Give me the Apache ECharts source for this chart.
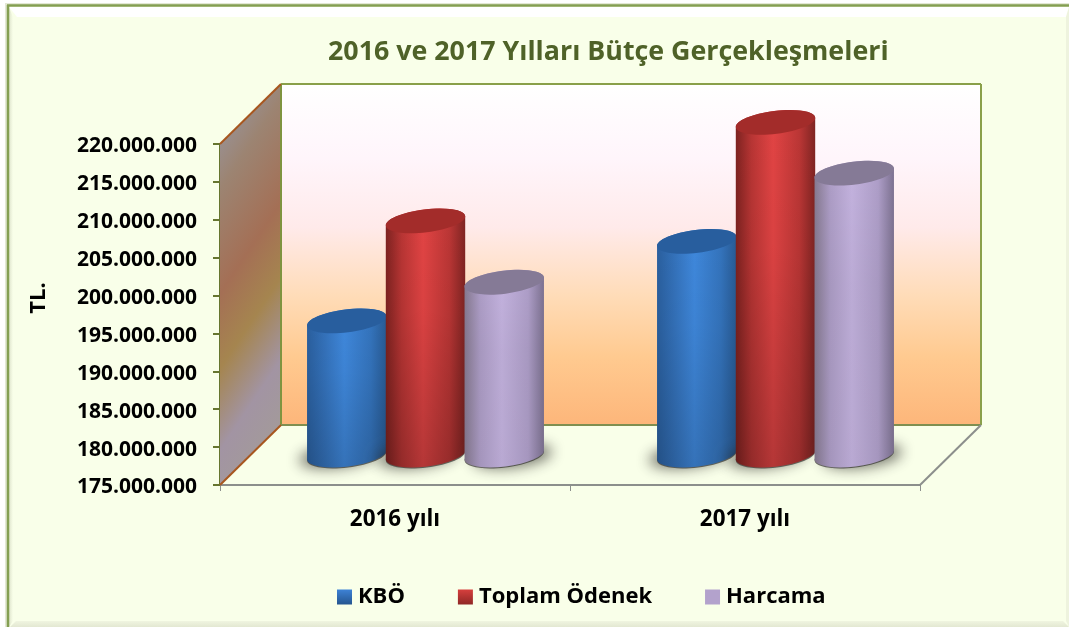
<!DOCTYPE html>
<html><head><meta charset="utf-8">
<style>html,body{margin:0;padding:0;background:#fff}#c{width:1069px;height:627px}</style>
<script src="https://cdn.jsdelivr.net/npm/echarts@6/dist/echarts.min.js"></script>
</head><body><div id="c"></div>
<script>
const titleText = '2016 ve 2017 Yılları Bütçe Gerçekleşmeleri';
const yAxisTitle = 'TL.';
const categories = ['2016 yılı', '2017 yılı'];
const kbo = [192700000, 203200000];
const toplamOdenek = [205900000, 218900000];
const harcama = [197800000, 212200000];
const yMin = 175000000, yMax = 220000000, yStep = 5000000;

const G = echarts.graphic;
const DX = 61, DY = -60;           // oblique depth of the 3D box
const RX = 40, RY = 11.5, TILT = -7 * Math.PI / 180;
const lin = (x0, y0, x1, y1, stops, global) => new G.LinearGradient(x0, y0, x1, y1,
  stops.map(s => ({offset: s[0], color: s[1]})), global);

const palettes = {
  blue: {edgeL:'#2a5f9e', blendL:'#3370b8', mid:'#3f88dc', blendR:'#3474bd', edgeR:'#285a93', top:'#285e9e', dim:0.16},
  red: {edgeL:'#7d2220', blendL:'#b83534', mid:'#e24444', blendR:'#bb3635', edgeR:'#7f2422', top:'#a32c2a', dim:0.2},
  lilac: {edgeL:'#85798f', blendL:'#ad9dc6', mid:'#c3b2de', blendR:'#ae9ec8', edgeR:'#7c7190', top:'#857a96', dim:0.05}
};

function wallsItem(params, api) {
  const fl = api.coord([0, yMin]), fr = api.coord([1, yMin]), tl = api.coord([0, yMax]);
  const band = api.size([1, 0])[0];
  const x0 = fl[0] - band / 2, x1 = fr[0] + band / 2, yb = fl[1], yt = tl[1];
  const poly = (pts, style) => ({type:'polygon', shape:{points:pts}, style, silent:true});
  const ln = (a, b, c, w) => ({type:'line', shape:{x1:a[0],y1:a[1],x2:b[0],y2:b[1]},
    style:{stroke:c, lineWidth:w||2}, silent:true});
  const A=[x0,yb], B=[x0+DX,yb+DY], C=[x0+DX,yt+DY], D=[x0,yt], E=[x1,yb], F=[x1+DX,yb+DY], H=[x1+DX,yt+DY];
  return {type:'group', children:[
    poly([B,C,H,F], {fill: lin(0,0,0,1,[[0,'#ffffff'],[0.22,'#fff5fb'],[0.42,'#ffeaea'],[0.62,'#ffdcb8'],[0.8,'#ffca90'],[1,'#fdb67a']])}),
    poly([A,B,C,D], {fill: lin(x0,yt,x0+173,yt+116,[[0,'#9a8e8c'],[0.12,'#9c8472'],[0.4,'#a46f55'],[0.6,'#a5854f'],[0.82,'#a294a3'],[1,'#a39a9a']], true)}),
    ln(B,C,'#7f9440'), ln(C,H,'#8aa04a'), ln(H,F,'#8aa04a'), ln(B,F,'#7f8f50'), ln(F,E,'#8c8f8c'),
    ln(A,B,'#a8571f'), ln(D,C,'#a8571f')
  ]};
}

function cylinderItem(slot, pal) {
  return function (params, api) {
    const band = api.size([1, 0])[0];
    const base = api.coord([api.value(0), yMin]);
    const topP = api.coord([api.value(0), api.value(1)]);
    const cx = base[0] + DX / 2 + slot * band * 0.225;
    const by = base[1] + DY / 2, ty = topP[1] + DY / 2;
    const dx = RX * Math.cos(TILT), dy = RX * Math.sin(TILT);
    const deg = TILT * 180 / Math.PI;
    const d = `M${cx-dx} ${ty-dy} L${cx-dx} ${by-dy} A${RX} ${RY} ${deg} 0 0 ${cx+dx} ${by+dy} L${cx+dx} ${ty+dy} A${RX} ${RY} ${deg} 0 0 ${cx-dx} ${ty-dy} Z`;
    const ell = (y, style) => ({type:'ellipse', x:cx, y:y, rotation:-TILT,
      shape:{cx:0, cy:0, rx:RX, ry:RY}, style, silent:true});
    return {type:'group', children:[
      ell(by + 1, {fill:'rgba(60,60,55,0.75)', shadowBlur:14, shadowColor:'rgba(40,40,35,0.85)', shadowOffsetX:slot===1?8:-8}),
      {type:'path', shape:{pathData:d}, silent:true, style:{
        fill: lin(0,0,1,0,[[0,pal.edgeL],[0.2,pal.blendL],[0.47,pal.mid],[0.8,pal.blendR],[1,pal.edgeR]])}},
      {type:'path', shape:{pathData:d}, silent:true, style:{
        fill: lin(0,0,0,1,[[0,'rgba(0,0,0,0)'],[0.4,'rgba(0,0,0,0.04)'],[1,`rgba(0,0,0,${pal.dim})`]])}},
      ell(ty, {fill:pal.top})
    ]};
  };
}

function barSeries(name, data, slot, pal, legendStops) {
  return {type:'custom', name, clip:false, z:3 + slot,
    data: data.map((v, i) => [i, v]), encode:{x:0, y:1},
    itemStyle:{color: lin(0,0,0,1,legendStops)},
    renderItem: cylinderItem(slot, pal)};
}

const chart = echarts.init(document.getElementById('c'), null, {renderer:'canvas'});
chart.setOption({
  animation:false,
  backgroundColor:'#ffffff',
  textStyle:{fontFamily:'Open Sans'},
  title:{text:titleText, left:323, top:34,
    textStyle:{color:'#4f6228', fontSize:26.8, fontWeight:'bold', fontFamily:'Open Sans'}},
  legend:{left:332, top:581, icon:'rect', itemWidth:15, itemHeight:15, itemGap:53,
    selectedMode:false,
    data:['KBÖ','Toplam Ödenek','Harcama'],
    textStyle:{color:'#000', fontSize:22, fontWeight:'bold', fontFamily:'Open Sans', padding:[0,0,0,1]}},
  grid:{left:220, top:144, width:700, height:341, containLabel:false},
  xAxis:{type:'category', data:categories, boundaryGap:true,
    axisLine:{lineStyle:{color:'#8c8f8c', width:2}},
    axisTick:{show:true, alignWithLabel:false, length:6, lineStyle:{color:'#8c8f8c', width:1}},
    axisLabel:{color:'#000', fontSize:22.4, fontWeight:'bold', fontFamily:'Open Sans', margin:24}},
  yAxis:{type:'value', min:yMin, max:yMax, interval:yStep, splitLine:{show:false},
    axisLine:{show:true, lineStyle:{color:'#66762f', width:2}},
    axisTick:{show:true, length:7, lineStyle:{color:'#66762f', width:2}},
    axisLabel:{margin:23,
      rich:{v:{color:'#000', fontSize:21, fontWeight:'bold', fontFamily:'Open Sans', padding:[5,0,0,0]}},
      formatter:v => '{v|' + String(v).replace(/\B(?=(\d{3})+$)/g,'.') + '}'}},
  graphic:{elements:[
    {type:'rect', z:-10, silent:true, shape:{x:7,y:5,width:1062,height:622},
      style:{fill:'#f9ffe9'}},
    {type:'polygon', z:-9, silent:true, shape:{points:[[9,7],[1069,7],[1066,17],[17,17]]}, style:{fill:'#ffffff'}},
    {type:'polygon', z:-9, silent:true, shape:{points:[[9,7],[13,17],[13,621],[9,627]]},
      style:{fill:lin(0,0,1,0,[[0,'#dfe5cd'],[1,'#f9ffe9']])}},
    {type:'polygon', z:-9, silent:true, shape:{points:[[10,627],[16,621],[1063,621],[1069,627]]},
      style:{fill:lin(0,0,0,1,[[0,'#f0f5e0'],[1,'#e3e8d2']])}},
    {type:'polygon', z:-9, silent:true, shape:{points:[[1069,7],[1066,17],[1066,621],[1069,627]]},
      style:{fill:'#eef3de'}},
    {type:'rect', z:-11, silent:true, shape:{x:5,y:3,width:1064,height:624}, style:{fill:'#e3e8d5'}},
    {type:'line', z:-8, silent:true, shape:{x1:7,y1:5.5,x2:1069,y2:5.5}, style:{stroke:'#849f52', lineWidth:2.5}},
    {type:'line', z:-8, silent:true, shape:{x1:8,y1:5,x2:8,y2:627}, style:{stroke:'#849f52', lineWidth:2.5}},
    {type:'text', z:5, silent:true, x:39, y:298, rotation:Math.PI/2,
      style:{text:yAxisTitle, fill:'#000', font:'bold 22px "Open Sans"', textAlign:'center', textVerticalAlign:'middle'}}
  ]},
  series:[
    {type:'custom', silent:true, clip:false, z:1, data:[[0, yMin]], encode:{x:0,y:1},
      legendHoverLink:false, renderItem:wallsItem, tooltip:{show:false}},
    barSeries('KBÖ', kbo, -1, palettes.blue, [[0,'#3d82d6'],[1,'#25558f']]),
    barSeries('Toplam Ödenek', toplamOdenek, 0, palettes.red, [[0,'#d63f3d'],[1,'#8f2725']]),
    barSeries('Harcama', harcama, 1, palettes.lilac, [[0,'#b3a2cc'],[1,'#b3a2cc']])
  ]
});
</script></body></html>
